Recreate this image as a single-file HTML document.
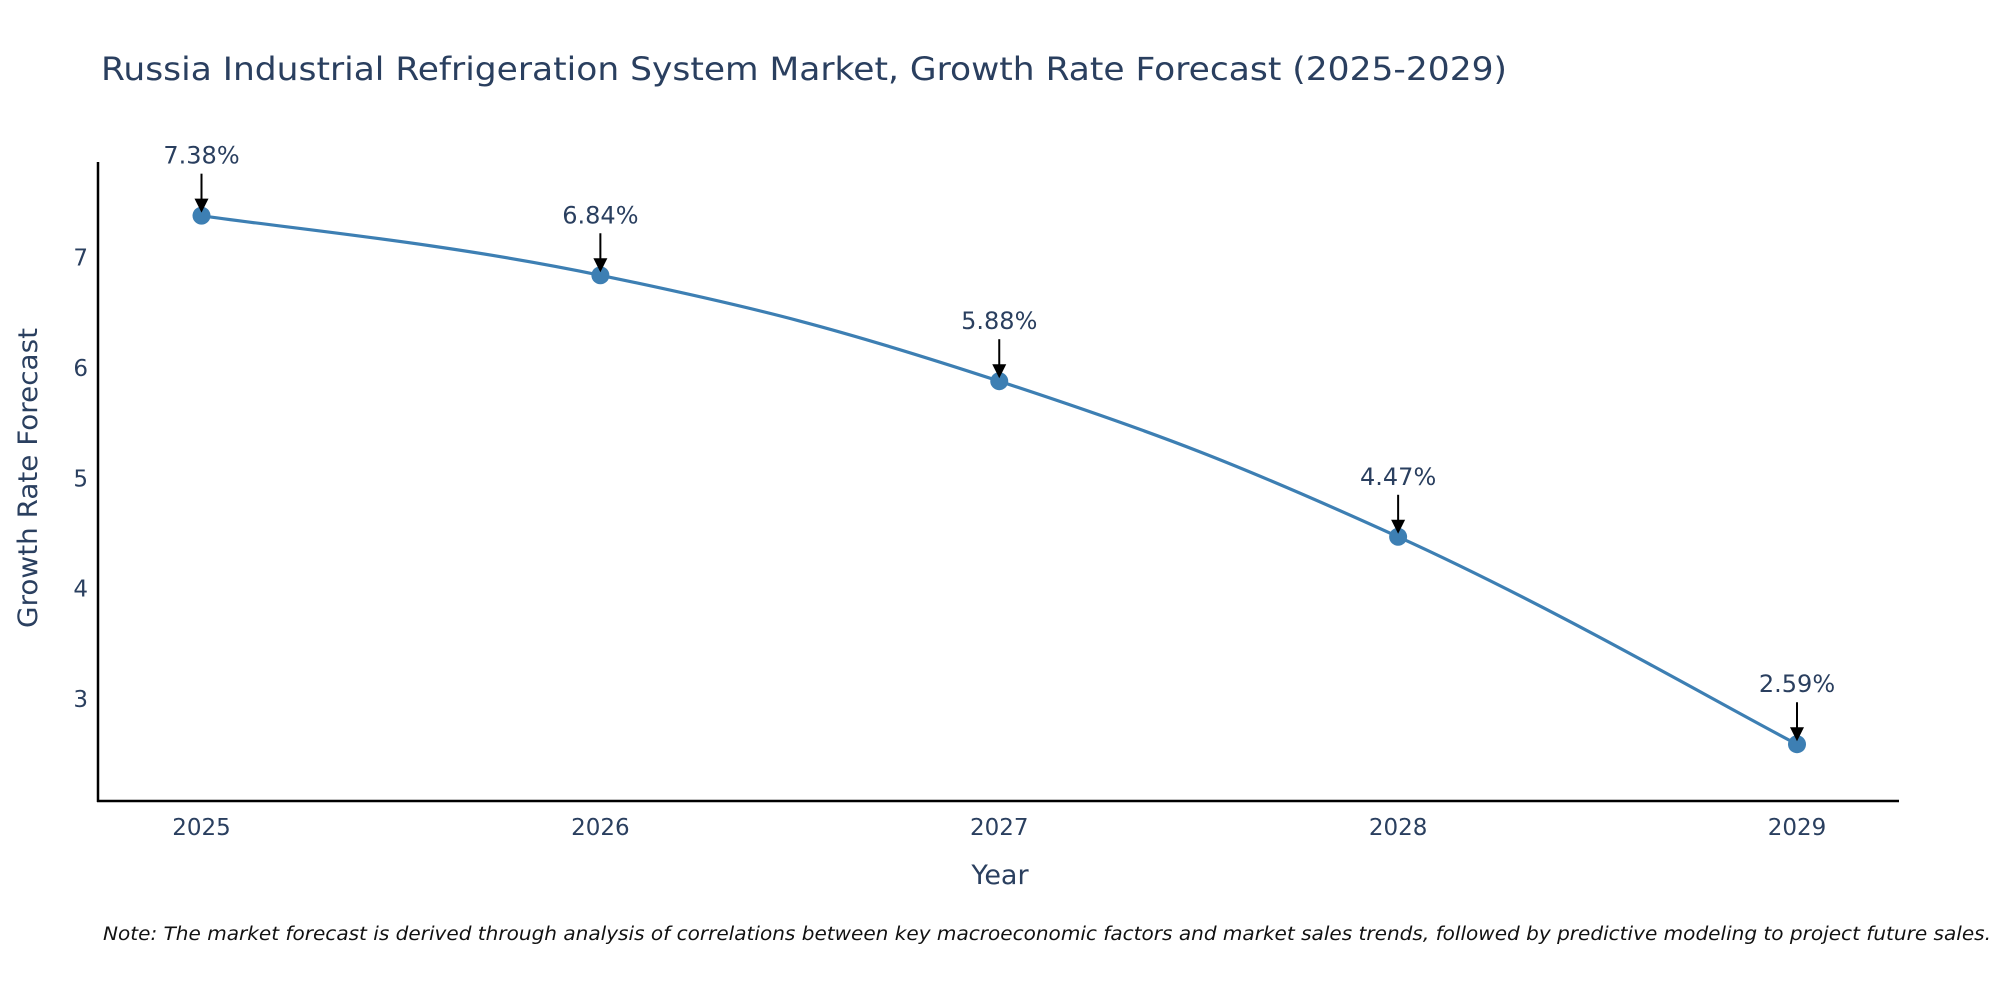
<!DOCTYPE html>
<html><head><meta charset="utf-8"><style>
body{margin:0;background:#fff}
svg{display:block;font-family:"DejaVu Sans","Liberation Sans",sans-serif}
</style></head><body>
<svg id="chart" width="2000" height="1000">
<text x="101" y="80" font-size="32" fill="#2a3f5f" textLength="1406" lengthAdjust="spacingAndGlyphs">Russia Industrial Refrigeration System Market, Growth Rate Forecast (2025-2029)</text>
<g id="plot"></g>
<text x="1000" y="884" font-size="27" fill="#2a3f5f" text-anchor="middle">Year</text>
<text x="0" y="0" font-size="27" fill="#2a3f5f" text-anchor="middle" textLength="300" lengthAdjust="spacingAndGlyphs" transform="translate(37,478) rotate(-90)">Growth Rate Forecast</text>
<text x="103" y="940" font-size="18.5" font-style="italic" fill="#111" textLength="1888" lengthAdjust="spacingAndGlyphs">Note: The market forecast is derived through analysis of correlations between key macroeconomic factors and market sales trends, followed by predictive modeling to project future sales.</text>
</svg>
<script>
const years = [2025, 2026, 2027, 2028, 2029];
const values = [7.38, 6.84, 5.88, 4.47, 2.59];
const labels = ["7.38%", "6.84%", "5.88%", "4.47%", "2.59%"];
const yTicks = [3, 4, 5, 6, 7];

const NS = "http://www.w3.org/2000/svg";
const g = document.getElementById("plot");
const xs = i => 201.5 + (years[i] - years[0]) * ((1797 - 201.5) / 4);
const ys = v => 257.6 + (7 - v) * 110.35;
function el(t, a) { const e = document.createElementNS(NS, t); for (const k in a) e.setAttribute(k, a[k]); g.appendChild(e); return e; }

const ya = el("line", {x1:98, y1:162, x2:98, y2:802, stroke:"#000", "stroke-width":2.5});


const xa = el("line", {x1:97, y1:801, x2:1899, y2:801, stroke:"#000", "stroke-width":2.5});



yTicks.forEach(v => {
  const t = el("text", {x:88, y:ys(v)+8, "font-size":23, fill:"#2a3f5f", "text-anchor":"end"});
  t.textContent = v;
  
  
});
years.forEach((y, i) => {
  const t = el("text", {x:xs(i), y:835, "font-size":23, fill:"#2a3f5f", "text-anchor":"middle"});
  t.textContent = y;
  
  
});

const P = values.map((v, i) => [xs(i), ys(v)]);
let d = `M${P[0][0]},${P[0][1]}`;
const s = 0.6 / 3;
for (let i = 0; i < P.length - 1; i++) {
  const p0 = P[Math.max(i-1,0)], p1 = P[i], p2 = P[i+1], p3 = P[Math.min(i+2,P.length-1)];
  const c1 = [p1[0] + (p2[0]-p0[0])*s, p1[1] + (p2[1]-p0[1])*s];
  const c2 = [p2[0] - (p3[0]-p1[0])*s, p2[1] - (p3[1]-p1[1])*s];
  d += ` C${c1[0]},${c1[1]} ${c2[0]},${c2[1]} ${p2[0]},${p2[1]}`;
}
const line = el("path", {d, fill:"none", stroke:"#3d7fb3", "stroke-width":3.2});



values.forEach((v, i) => {
  const c = el("circle", {cx:xs(i), cy:ys(v), r:9, fill:"#3d7fb3"});
  
  
  const a = el("line", {x1:xs(i), y1:ys(v)-42, x2:xs(i), y2:ys(v)-14, stroke:"#000", "stroke-width":2});
  
  
  const h = el("polygon", {points:`${xs(i)-7},${ys(v)-17} ${xs(i)+7},${ys(v)-17} ${xs(i)},${ys(v)-3}`, fill:"#000"});
  
  
  const t = el("text", {x:xs(i), y:ys(v)-52, "font-size":24, fill:"#2a3f5f", "text-anchor":"middle"});
  t.textContent = labels[i];
  
  
});
</script>
</body></html>
